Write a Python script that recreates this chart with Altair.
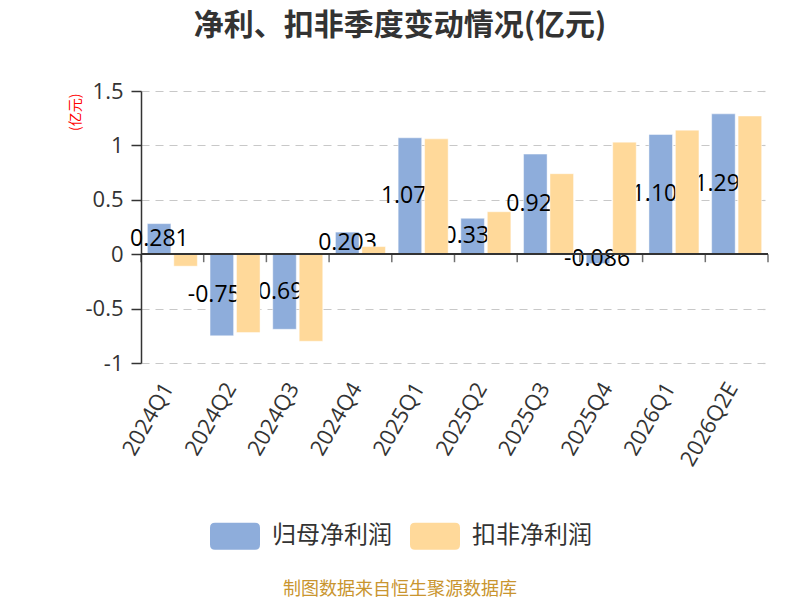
import altair as alt
import pandas as pd

quarters = ["2024Q1", "2024Q2", "2024Q3", "2024Q4", "2025Q1",
            "2025Q2", "2025Q3", "2025Q4", "2026Q1", "2026Q2E"]
net_profit = [0.281, -0.75, -0.69, 0.203, 1.07, 0.33, 0.92, -0.086, 1.10, 1.29]
net_labels = ["0.281", "-0.75", "-0.69", "0.203", "1.07", "0.33", "0.92", "-0.086", "1.10", "1.29"]
deducted = [-0.11, -0.72, -0.80, 0.07, 1.06, 0.39, 0.74, 1.03, 1.14, 1.27]
series_names = ["归母净利润", "扣非净利润"]
series_colors = ["#8eaddb", "#ffd99a"]
y_ticks = [-1, -0.5, 0, 0.5, 1, 1.5]
title_text = "净利、扣非季度变动情况(亿元)"
y_title = "(亿元)"
footer_text = "制图数据来自恒生聚源数据库"

rows = []
for q, v, lab in zip(quarters, net_profit, net_labels):
    rows.append({"q": q, "series": series_names[0], "value": v, "label": lab})
for q, v in zip(quarters, deducted):
    rows.append({"q": q, "series": series_names[1], "value": v, "label": ""})
df = pd.DataFrame(rows)
df_q = pd.DataFrame({"q": quarters})
df_last = pd.DataFrame({"q": quarters[-1:]})
df_footer = pd.DataFrame({"t": [footer_text]})
df_title = pd.DataFrame({"t": [title_text]})

FONT = "Open Sans, Noto Sans CJK SC, sans-serif"
CJK = "Noto Sans CJK SC"
W, H = 627, 272

x_axis = alt.Axis(title=None, labelAngle=-60, labelFontSize=22, labelColor="#333333",
                  labelFont=FONT, domain=False, ticks=False, tickSize=0, grid=False,
                  labelPadding=21, labelOffset=-4,
                  labelAlign="right", labelBaseline="middle", labelOverlap=False)
x_scale = alt.Scale(paddingInner=0, paddingOuter=0)


def x_of(band_pos=None):
    if band_pos is None:
        return alt.X("q:N", sort=quarters, scale=x_scale, axis=x_axis)
    return alt.X("q:N", sort=quarters, scale=x_scale, axis=x_axis, bandPosition=band_pos)


xoff = alt.XOffset("series:N", sort=series_names,
                   scale=alt.Scale(domain=series_names, paddingInner=0.11, paddingOuter=0.24))

y_axis = alt.Axis(title=y_title, titleColor="#ff0000", titleFontSize=14, titleFont=CJK,
                  titleFontWeight="normal", titleAngle=-90, titleX=-66, titleY=2,
                  titleAlign="right", titleBaseline="middle",
                  values=y_ticks, labelExpr="datum.value + ''", labelFontSize=22,
                  labelFont=FONT, labelColor="#333333", labelPadding=8,
                  domainColor="#333333", domainWidth=1.5, tickColor="#333333",
                  tickSize=10, tickWidth=1.5, gridColor="#c8c8c8", gridDash=[8, 6],
                  gridWidth=1.2)
y_scale = alt.Scale(domain=[-1, 1.5], nice=False, zero=False)


def y_of(field):
    return alt.Y(f"{field}:Q", scale=y_scale, axis=y_axis, title=y_title)


legend_shape = ("M-0.8,-0.54 L0.8,-0.54 Q1,-0.54 1,-0.34 L1,0.34 Q1,0.54 0.8,0.54 "
                "L-0.8,0.54 Q-1,0.54 -1,0.34 L-1,-0.34 Q-1,-0.54 -0.8,-0.54 Z")
color_enc = alt.Color("series:N", scale=alt.Scale(domain=series_names, range=series_colors),
                      legend=alt.Legend(title=None, orient="none", legendX=69, legendY=420,
                                        direction="horizontal", symbolType=legend_shape,
                                        symbolSize=2500, symbolStrokeWidth=0, symbolOpacity=1,
                                        labelFontSize=24, labelFont=CJK, labelColor="#333333",
                                        labelOffset=12, columnPadding=18, padding=0))

base = alt.Chart(df)
bar_style = dict(stroke="#ffffff", strokeOpacity=0.45, strokeWidth=1)
blue_only = base.transform_filter(alt.datum.series == series_names[0])

blue_bars = blue_only.mark_bar(**bar_style).encode(
    x=x_of(), xOffset=xoff, y=y_of("value"), color=color_enc)

label_style = dict(align="left", baseline="middle", fontSize=23, font=FONT, color="#000000")
labels_pos = blue_only.transform_filter(alt.datum.value >= 0).transform_calculate(
    mid="datum.value / 2").mark_text(dx=-29, **label_style).encode(
    x=x_of(), xOffset=xoff, y=y_of("mid"), text="label:N")
labels_neg = blue_only.transform_filter(alt.datum.value < 0).transform_calculate(
    mid="datum.value / 2").mark_text(dx=-34, **label_style).encode(
    x=x_of(), xOffset=xoff, y=y_of("mid"), text="label:N")

orange_bars = base.transform_filter(alt.datum.series == series_names[1]).mark_bar(**bar_style).encode(
    x=x_of(), xOffset=xoff, y=y_of("value"), color=color_enc)

zero_line = alt.Chart(df_q).mark_rule(color="#333333", strokeWidth=1.5).encode(
    y=alt.datum(0, type="quantitative"))

tick_style = dict(orient="vertical", size=8, thickness=1.5, color="#333333", yOffset=4)
ticks = alt.Chart(df_q).mark_tick(**tick_style).encode(
    x=x_of(0), y=alt.datum(0, type="quantitative"))
last_tick = alt.Chart(df_last).mark_tick(**tick_style).encode(
    x=x_of(1), y=alt.datum(0, type="quantitative"))

title = alt.Chart(df_title).mark_text(fontSize=30, font=CJK, fontWeight="bold", color="#333333",
                                      align="center", baseline="middle").encode(
    x=alt.value(259), y=alt.value(-65), text="t:N")

footer = alt.Chart(df_footer).mark_text(fontSize=18, font=CJK, color="#c9952f", align="center",
                                        baseline="middle").encode(
    x=alt.value(259), y=alt.value(499), text="t:N")

chart = alt.layer(blue_bars, labels_pos, labels_neg, orange_bars, zero_line, ticks, last_tick,
                  title, footer).properties(
    width=W, height=H,
    padding={"left": 133, "top": 83, "right": 24, "bottom": 237},
    autosize=alt.AutoSizeParams(type="none"),
    background="#ffffff",
).configure_view(stroke=None)

chart.save("out.html", embed_options={"renderer": "svg", "actions": False})
